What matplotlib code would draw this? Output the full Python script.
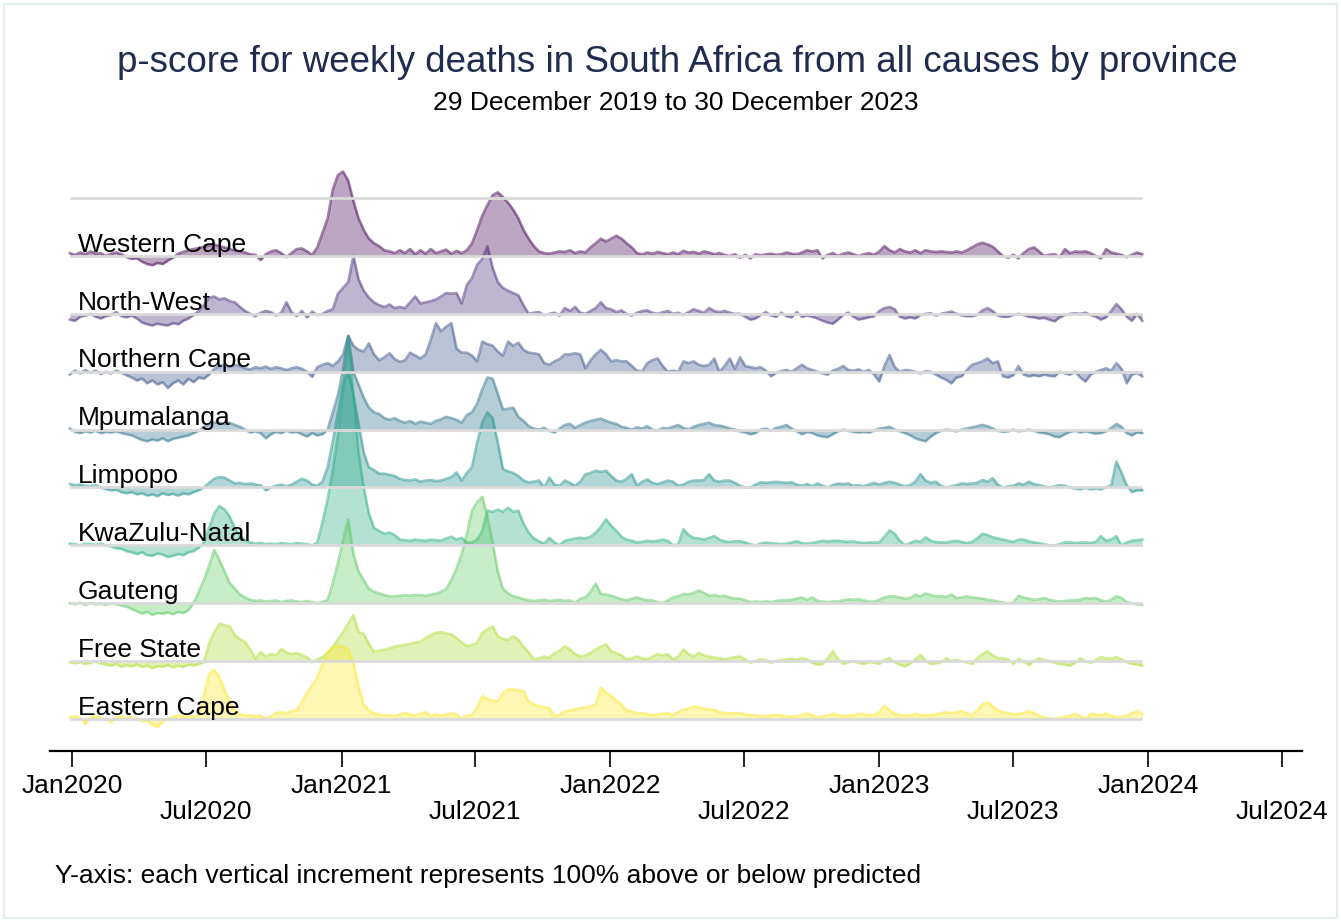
import numpy as np
import pandas as pd
import matplotlib
matplotlib.use("Agg")
import matplotlib.pyplot as plt
import matplotlib.dates as mdates
from matplotlib import transforms
from matplotlib.patches import Rectangle

plt.rcParams['font.family'] = ['Liberation Sans', 'DejaVu Sans']

# Weekly p-scores (fraction above / below predicted), week starting 29 Dec 2019
week_start = pd.date_range('2019-12-29', periods=209, freq='7D')

western_cape = [
    0.05, 0.02, 0.06, 0.03, 0.08, 0.04, 0.05, 0.00, 0.04, 0.06, 0.03, -0.02, -0.05,
    -0.04, -0.10, -0.14, -0.16, -0.12, -0.14, -0.08, -0.03, 0.04, 0.07, 0.10, 0.12, 0.14,
    0.16, 0.18, 0.20, 0.17, 0.15, 0.12, 0.10, 0.08, 0.06, 0.03, 0.02, -0.07, 0.03,
    0.08, 0.10, 0.05, -0.02, 0.05, 0.12, 0.13, 0.08, 0.02, 0.15, 0.40, 0.65, 1.15,
    1.40, 1.46, 1.30, 0.95, 0.65, 0.45, 0.30, 0.22, 0.17, 0.10, 0.08, 0.05, 0.10,
    0.05, 0.12, 0.03, 0.10, 0.04, 0.12, 0.05, 0.08, 0.11, 0.04, 0.09, 0.05, 0.10,
    0.22, 0.45, 0.70, 0.88, 1.05, 1.10, 1.02, 0.92, 0.80, 0.65, 0.45, 0.30, 0.17,
    0.08, 0.05, 0.04, 0.06, 0.08, 0.07, 0.10, 0.05, 0.08, 0.06, 0.15, 0.22, 0.30,
    0.25, 0.30, 0.35, 0.30, 0.22, 0.15, 0.05, 0.03, 0.06, 0.04, 0.07, 0.05, 0.03,
    0.06, 0.03, 0.09, 0.06, 0.07, 0.04, 0.08, 0.06, 0.03, 0.05, 0.02, 0.00, 0.03,
    -0.03, 0.02, -0.04, 0.03, 0.01, 0.03, 0.04, 0.02, 0.03, 0.06, 0.04, 0.03, 0.06,
    0.10, 0.08, 0.10, -0.04, 0.02, 0.05, 0.00, 0.04, 0.06, 0.03, 0.00, 0.03, 0.05,
    0.02, 0.08, 0.17, 0.10, 0.06, 0.12, 0.08, 0.06, 0.10, 0.05, 0.10, 0.08, 0.07,
    0.08, 0.07, 0.06, 0.08, 0.06, 0.10, 0.15, 0.20, 0.23, 0.20, 0.16, 0.08, 0.00,
    -0.03, 0.02, -0.04, 0.05, 0.12, 0.15, 0.08, 0.00, 0.02, 0.03, -0.02, 0.12, 0.05,
    0.08, 0.07, 0.08, 0.05, 0.00, -0.04, 0.12, 0.06, 0.04, 0.02, -0.02, 0.02, 0.06,
    0.03]

north_west = [
    -0.10, -0.12, -0.05, -0.03, 0.00, -0.05, -0.08, -0.04, -0.02, 0.03, -0.04, -0.06, -0.03,
    -0.08, -0.15, -0.18, -0.20, -0.17, -0.19, -0.20, -0.16, -0.18, -0.12, -0.08, -0.02, 0.05,
    0.15, 0.28, 0.30, 0.25, 0.27, 0.22, 0.20, 0.12, 0.05, 0.00, -0.04, 0.02, 0.05,
    0.03, -0.03, 0.02, 0.20, 0.03, -0.04, 0.05, -0.06, 0.04, -0.02, 0.00, 0.05, 0.08,
    0.35, 0.45, 0.55, 1.00, 0.60, 0.40, 0.28, 0.20, 0.15, 0.12, 0.16, 0.10, 0.12,
    0.10, 0.20, 0.30, 0.18, 0.20, 0.22, 0.25, 0.30, 0.36, 0.35, 0.36, 0.18, 0.50,
    0.62, 0.85, 0.95, 1.17, 0.80, 0.55, 0.45, 0.40, 0.36, 0.32, 0.15, 0.00, 0.02,
    0.03, -0.02, 0.00, 0.02, -0.03, 0.10, 0.05, 0.12, 0.02, 0.00, 0.05, 0.10, 0.20,
    0.10, 0.08, 0.03, 0.06, 0.00, -0.03, 0.02, 0.05, 0.06, 0.02, 0.00, 0.03, 0.05,
    0.00, 0.02, -0.02, 0.03, 0.08, 0.05, 0.02, 0.10, 0.05, 0.03, 0.05, 0.02, 0.00,
    0.00, -0.05, -0.10, -0.08, -0.02, 0.03, -0.03, -0.05, 0.02, -0.04, -0.06, 0.03, -0.05,
    -0.03, -0.05, -0.08, -0.12, -0.15, -0.17, -0.10, -0.02, 0.02, -0.05, -0.10, -0.08, -0.06,
    -0.04, 0.05, 0.10, 0.12, 0.08, -0.05, -0.08, -0.06, -0.08, -0.02, 0.00, 0.01, -0.03,
    0.00, 0.02, 0.04, 0.00, -0.03, -0.04, -0.04, -0.02, 0.06, 0.10, 0.05, -0.03, -0.05,
    -0.05, -0.02, 0.00, -0.02, -0.05, -0.06, -0.08, -0.07, -0.10, -0.13, -0.06, -0.02, 0.00,
    0.01, 0.00, 0.02, -0.02, -0.05, -0.10, -0.06, 0.05, 0.17, 0.08, -0.05, -0.12, 0.00,
    -0.12]

northern_cape = [
    -0.05, 0.02, -0.03, 0.03, -0.02, 0.02, -0.04, 0.00, -0.03, 0.02, -0.02, -0.06, -0.10,
    -0.15, -0.12, -0.20, -0.15, -0.22, -0.18, -0.28, -0.20, -0.15, -0.22, -0.12, -0.18, -0.10,
    -0.12, -0.05, 0.05, 0.10, 0.12, 0.08, 0.12, 0.10, 0.06, 0.04, 0.08, 0.06, 0.09,
    0.05, 0.08, 0.06, 0.03, 0.06, 0.08, 0.05, 0.00, -0.09, 0.08, 0.12, 0.15, 0.10,
    0.18, 0.30, 0.62, 0.45, 0.38, 0.35, 0.49, 0.30, 0.20, 0.25, 0.32, 0.22, 0.17,
    0.20, 0.33, 0.28, 0.23, 0.30, 0.55, 0.84, 0.70, 0.78, 0.84, 0.40, 0.33, 0.33,
    0.28, 0.18, 0.52, 0.48, 0.45, 0.35, 0.28, 0.52, 0.45, 0.50, 0.38, 0.33, 0.32,
    0.30, 0.15, 0.12, 0.18, 0.22, 0.30, 0.30, 0.32, 0.30, 0.06, 0.20, 0.30, 0.38,
    0.30, 0.18, 0.20, 0.18, 0.18, 0.10, 0.02, 0.00, 0.15, 0.20, 0.23, 0.10, 0.00,
    0.02, 0.00, 0.18, 0.15, 0.18, 0.12, 0.10, 0.12, 0.23, 0.00, 0.10, 0.23, 0.05,
    0.25, 0.10, 0.08, 0.06, 0.08, 0.02, -0.08, -0.02, 0.01, 0.03, 0.00, 0.06, 0.12,
    0.06, 0.03, 0.00, -0.03, -0.05, 0.02, 0.05, 0.10, 0.03, 0.02, 0.04, 0.00, 0.03,
    -0.05, -0.17, 0.10, 0.29, 0.08, 0.00, 0.03, 0.02, 0.00, -0.03, 0.01, 0.00, -0.05,
    -0.10, -0.14, -0.20, -0.10, -0.08, 0.03, 0.12, 0.15, 0.18, 0.23, 0.15, 0.18, -0.08,
    -0.10, -0.06, 0.10, -0.05, -0.08, -0.06, -0.08, -0.05, -0.07, -0.08, 0.00, -0.03, -0.05,
    0.00, -0.10, -0.17, -0.05, 0.00, 0.03, 0.06, 0.02, 0.15, 0.05, -0.20, -0.05, -0.02,
    -0.08]

mpumalanga = [
    0.02, -0.04, -0.06, -0.03, -0.05, -0.02, -0.06, -0.04, -0.05, -0.03, -0.06, -0.08, -0.10,
    -0.14, -0.18, -0.20, -0.17, -0.19, -0.15, -0.20, -0.16, -0.14, -0.12, -0.10, -0.06, -0.02,
    0.04, 0.10, 0.12, 0.12, 0.10, 0.12, 0.08, 0.05, 0.00, -0.05, -0.03, -0.06, -0.15,
    -0.08, -0.04, -0.06, -0.02, -0.05, -0.04, -0.08, -0.12, -0.06, -0.10, -0.08, 0.00, 0.30,
    0.60, 1.05, 1.62, 1.00, 0.78, 0.55, 0.38, 0.30, 0.27, 0.20, 0.17, 0.20, 0.15,
    0.12, 0.15, 0.10, 0.14, 0.12, 0.10, 0.15, 0.18, 0.22, 0.20, 0.17, 0.12, 0.25,
    0.30, 0.45, 0.70, 0.90, 0.88, 0.62, 0.35, 0.36, 0.38, 0.22, 0.15, 0.06, 0.02,
    0.00, 0.03, -0.02, -0.05, 0.02, 0.08, 0.10, 0.03, 0.08, 0.12, 0.15, 0.17, 0.19,
    0.15, 0.12, 0.10, 0.05, 0.03, 0.00, 0.04, 0.02, 0.06, 0.00, -0.02, 0.03, 0.02,
    0.05, 0.08, 0.03, 0.00, 0.05, 0.08, 0.10, 0.12, 0.08, 0.07, 0.05, 0.02, 0.00,
    -0.03, -0.05, -0.08, -0.06, 0.00, 0.02, -0.02, 0.03, 0.05, 0.08, 0.02, -0.03, -0.08,
    -0.04, -0.06, -0.10, -0.12, -0.13, -0.08, -0.03, 0.00, -0.02, -0.04, -0.05, -0.04, -0.05,
    -0.02, 0.02, 0.03, 0.05, 0.00, -0.03, -0.06, -0.10, -0.15, -0.18, -0.20, -0.12, -0.06,
    -0.02, 0.00, -0.01, -0.03, 0.00, 0.02, 0.04, 0.06, 0.08, 0.06, 0.02, -0.02, -0.04,
    -0.03, 0.00, -0.03, -0.02, 0.00, -0.02, -0.05, -0.06, -0.08, -0.12, -0.13, -0.08, -0.04,
    -0.02, -0.05, -0.03, -0.05, -0.07, -0.06, -0.03, 0.03, 0.10, 0.05, -0.06, -0.10, -0.05,
    -0.06]

limpopo = [
    0.06, 0.04, 0.05, 0.03, 0.02, 0.04, 0.00, -0.03, -0.05, -0.04, -0.08, -0.10, -0.08,
    -0.12, -0.10, -0.14, -0.12, -0.15, -0.10, -0.13, -0.11, -0.14, -0.10, -0.12, -0.08, -0.05,
    0.00, 0.08, 0.15, 0.18, 0.17, 0.12, 0.07, 0.08, 0.06, 0.07, 0.05, 0.04, -0.05,
    0.00, 0.03, 0.05, 0.02, 0.05, 0.10, 0.15, 0.12, 0.05, 0.03, 0.10, 0.35, 0.80,
    1.30, 1.80, 2.00, 1.60, 1.10, 0.60, 0.35, 0.30, 0.24, 0.24, 0.22, 0.20, 0.15,
    0.13, 0.12, 0.14, 0.10, 0.12, 0.13, 0.11, 0.12, 0.15, 0.18, 0.26, 0.12, 0.25,
    0.35, 0.78, 1.13, 1.30, 1.20, 0.78, 0.32, 0.28, 0.25, 0.20, 0.12, 0.09, 0.10,
    0.12, 0.00, 0.17, 0.05, 0.03, 0.12, 0.08, 0.03, 0.10, 0.23, 0.25, 0.29, 0.27,
    0.29, 0.20, 0.12, 0.10, 0.15, 0.23, 0.03, 0.10, 0.14, 0.08, 0.06, 0.09, 0.12,
    0.10, 0.03, 0.05, 0.10, 0.12, 0.12, 0.13, 0.23, 0.12, 0.10, 0.12, 0.12, 0.08,
    0.03, 0.00, 0.00, 0.05, 0.09, 0.08, 0.09, 0.10, 0.09, 0.08, 0.09, 0.05, 0.03,
    0.06, 0.02, 0.07, 0.03, 0.00, 0.04, 0.07, 0.06, 0.07, 0.03, 0.04, 0.02, 0.05,
    0.08, 0.05, 0.08, 0.10, 0.08, 0.05, 0.02, 0.04, 0.10, 0.23, 0.12, 0.08, 0.10,
    0.03, 0.00, 0.02, 0.04, 0.07, 0.06, 0.07, 0.08, 0.13, 0.10, 0.16, 0.05, 0.00,
    0.02, 0.03, 0.07, 0.05, 0.10, 0.06, 0.04, 0.02, 0.00, 0.02, 0.04, 0.03, 0.00,
    -0.02, -0.03, -0.01, -0.03, -0.02, -0.03, 0.00, 0.04, 0.45, 0.25, 0.04, -0.08, -0.05,
    -0.05]

kwazulu_natal = [
    0.03, 0.02, 0.00, 0.03, 0.02, 0.01, 0.03, 0.00, -0.02, -0.05, -0.06, -0.10, -0.12,
    -0.15, -0.12, -0.17, -0.18, -0.14, -0.16, -0.20, -0.18, -0.15, -0.17, -0.12, -0.10, -0.04,
    0.05, 0.30, 0.55, 0.68, 0.62, 0.50, 0.30, 0.17, 0.09, 0.05, 0.03, 0.04, 0.02,
    0.03, 0.02, 0.04, 0.03, 0.02, 0.04, 0.03, 0.02, 0.00, 0.05, 0.40, 0.80, 1.30,
    1.90, 2.70, 3.60, 2.60, 1.60, 1.00, 0.55, 0.30, 0.25, 0.20, 0.22, 0.18, 0.10,
    0.09, 0.08, 0.10, 0.09, 0.08, 0.10, 0.09, 0.08, 0.12, 0.15, 0.10, 0.13, 0.05,
    0.05, 0.10, 0.25, 0.60, 0.58, 0.62, 0.58, 0.65, 0.58, 0.60, 0.38, 0.22, 0.12,
    0.07, 0.03, 0.13, 0.05, 0.00, 0.08, 0.10, 0.12, 0.13, 0.12, 0.15, 0.22, 0.32,
    0.45, 0.34, 0.25, 0.15, 0.10, 0.08, 0.05, 0.06, 0.08, 0.07, 0.08, 0.10, 0.08,
    0.00, 0.02, 0.28, 0.18, 0.13, 0.12, 0.10, 0.13, 0.16, 0.10, 0.07, 0.06, 0.07,
    0.07, 0.05, 0.02, 0.00, 0.03, 0.05, 0.04, 0.03, 0.02, 0.03, 0.05, 0.07, 0.04,
    0.03, 0.04, 0.06, 0.08, 0.07, 0.08, 0.08, 0.07, 0.06, 0.07, 0.05, 0.04, 0.05,
    0.05, 0.05, 0.15, 0.26, 0.20, 0.08, 0.00, 0.04, 0.08, 0.06, 0.14, 0.08, 0.06,
    0.05, 0.05, 0.07, 0.08, 0.06, 0.04, 0.06, 0.12, 0.20, 0.18, 0.14, 0.12, 0.10,
    0.08, 0.06, 0.10, 0.10, 0.07, 0.05, 0.04, 0.02, 0.00, 0.00, 0.02, 0.05, 0.05,
    0.04, 0.05, 0.05, 0.04, 0.06, 0.16, 0.08, 0.10, 0.16, 0.00, 0.05, 0.08, 0.09,
    0.10]

gauteng = [
    0.00, -0.02, 0.01, -0.03, 0.00, -0.02, -0.01, -0.03, 0.00, -0.02, -0.04, -0.06, -0.10,
    -0.14, -0.18, -0.15, -0.20, -0.17, -0.18, -0.16, -0.19, -0.15, -0.17, -0.12, 0.00, 0.20,
    0.40, 0.65, 0.92, 0.75, 0.55, 0.35, 0.25, 0.15, 0.10, 0.06, 0.04, 0.05, 0.03,
    0.04, 0.05, 0.02, 0.04, 0.05, 0.03, 0.02, 0.04, 0.02, 0.00, 0.02, 0.06, 0.35,
    0.70, 1.10, 1.45, 0.85, 0.55, 0.40, 0.25, 0.20, 0.17, 0.14, 0.12, 0.12, 0.13,
    0.14, 0.13, 0.14, 0.14, 0.13, 0.15, 0.16, 0.20, 0.25, 0.40, 0.60, 0.85, 1.20,
    1.60, 1.75, 1.84, 1.50, 1.05, 0.55, 0.25, 0.17, 0.12, 0.10, 0.07, 0.05, 0.04,
    0.05, 0.06, 0.04, 0.05, 0.06, 0.04, 0.05, 0.00, 0.08, 0.10, 0.20, 0.34, 0.16,
    0.15, 0.13, 0.10, 0.07, 0.05, 0.08, 0.10, 0.07, 0.05, 0.05, 0.02, 0.00, 0.05,
    0.10, 0.12, 0.16, 0.15, 0.18, 0.22, 0.18, 0.13, 0.14, 0.12, 0.13, 0.10, 0.08,
    0.08, 0.05, 0.02, 0.03, 0.02, 0.03, 0.02, 0.04, 0.05, 0.05, 0.06, 0.08, 0.10,
    0.06, 0.10, 0.04, 0.03, 0.02, 0.03, 0.03, 0.05, 0.07, 0.06, 0.07, 0.05, 0.03,
    0.03, 0.06, 0.10, 0.12, 0.12, 0.10, 0.08, 0.09, 0.15, 0.12, 0.17, 0.14, 0.12,
    0.12, 0.11, 0.15, 0.09, 0.10, 0.12, 0.10, 0.09, 0.08, 0.06, 0.05, 0.03, 0.01,
    0.00, 0.01, 0.13, 0.10, 0.08, 0.06, 0.07, 0.09, 0.06, 0.04, 0.03, 0.04, 0.05,
    0.05, 0.06, 0.09, 0.08, 0.09, 0.05, 0.03, 0.06, 0.12, 0.09, 0.02, 0.00, -0.02,
    -0.03]

free_state = [
    -0.02, -0.04, -0.02, -0.05, -0.03, -0.01, -0.04, -0.06, -0.08, -0.05, -0.10, -0.07, -0.09,
    -0.06, -0.10, -0.08, -0.12, -0.09, -0.10, -0.07, -0.11, -0.08, -0.10, -0.06, -0.08, -0.05,
    -0.02, 0.30, 0.50, 0.65, 0.62, 0.60, 0.45, 0.38, 0.33, 0.20, 0.04, 0.16, 0.08,
    0.12, 0.10, 0.21, 0.15, 0.12, 0.14, 0.10, 0.07, -0.02, 0.03, 0.07, 0.15, 0.24,
    0.38, 0.50, 0.65, 0.80, 0.50, 0.47, 0.30, 0.16, 0.18, 0.20, 0.22, 0.25, 0.27,
    0.28, 0.30, 0.32, 0.33, 0.40, 0.45, 0.49, 0.50, 0.48, 0.46, 0.40, 0.32, 0.26,
    0.28, 0.32, 0.49, 0.55, 0.60, 0.43, 0.38, 0.37, 0.43, 0.37, 0.25, 0.15, 0.03,
    0.05, 0.08, 0.06, 0.14, 0.18, 0.26, 0.20, 0.12, 0.08, 0.10, 0.14, 0.20, 0.25,
    0.29, 0.17, 0.14, 0.10, 0.03, 0.05, 0.08, 0.05, 0.03, 0.08, 0.12, 0.10, 0.12,
    0.03, 0.08, 0.20, 0.12, 0.08, 0.14, 0.10, 0.08, 0.06, 0.05, 0.03, 0.05, 0.07,
    0.08, 0.03, -0.03, 0.00, 0.03, 0.02, -0.03, 0.00, 0.02, 0.03, 0.04, 0.03, 0.05,
    0.03, -0.03, -0.06, -0.05, 0.05, 0.17, 0.03, -0.05, -0.02, 0.00, -0.03, -0.05, -0.02,
    -0.03, -0.05, 0.02, 0.05, -0.02, -0.06, -0.09, -0.04, 0.03, 0.11, 0.00, -0.05, -0.04,
    -0.02, 0.05, 0.00, 0.02, 0.00, -0.02, -0.05, 0.05, 0.12, 0.17, 0.10, 0.05, 0.05,
    0.03, -0.05, 0.04, 0.00, -0.07, 0.00, 0.05, 0.02, 0.00, -0.03, -0.05, -0.06, -0.08,
    -0.03, 0.05, 0.00, -0.03, 0.02, 0.07, 0.05, 0.04, 0.07, 0.03, -0.02, -0.05, -0.06,
    -0.08]

eastern_cape = [
    0.03, 0.05, 0.02, -0.09, 0.03, 0.05, 0.02, 0.00, -0.06, 0.03, 0.04, 0.02, 0.03,
    0.00, -0.04, -0.03, -0.10, -0.14, -0.05, 0.00, 0.04, 0.06, 0.05, 0.04, 0.05, 0.06,
    0.40, 0.78, 0.85, 0.72, 0.50, 0.30, 0.15, 0.08, 0.06, 0.06, 0.05, 0.06, 0.00,
    0.05, 0.10, 0.12, 0.10, 0.14, 0.15, 0.30, 0.45, 0.58, 0.72, 0.95, 1.15, 1.24,
    1.27, 1.25, 1.20, 0.98, 0.55, 0.25, 0.15, 0.10, 0.08, 0.06, 0.07, 0.05, 0.08,
    0.10, 0.08, 0.06, 0.09, 0.12, 0.05, 0.08, 0.06, 0.08, 0.10, 0.08, 0.00, 0.06,
    0.07, 0.20, 0.40, 0.35, 0.32, 0.30, 0.45, 0.51, 0.51, 0.50, 0.48, 0.30, 0.25,
    0.22, 0.20, 0.19, 0.05, 0.08, 0.13, 0.15, 0.17, 0.19, 0.20, 0.22, 0.25, 0.54,
    0.45, 0.40, 0.32, 0.25, 0.15, 0.13, 0.10, 0.10, 0.08, 0.07, 0.08, 0.09, 0.10,
    0.07, 0.12, 0.16, 0.18, 0.22, 0.20, 0.18, 0.16, 0.16, 0.12, 0.10, 0.10, 0.10,
    0.10, 0.08, 0.07, 0.06, 0.05, 0.05, 0.06, 0.07, 0.06, 0.05, 0.04, 0.05, 0.07,
    0.10, 0.06, 0.03, 0.05, 0.06, 0.09, 0.07, 0.05, 0.06, 0.06, 0.09, 0.08, 0.07,
    0.07, 0.12, 0.23, 0.15, 0.09, 0.07, 0.06, 0.06, 0.09, 0.07, 0.06, 0.07, 0.08,
    0.10, 0.12, 0.10, 0.12, 0.14, 0.10, 0.06, 0.15, 0.25, 0.29, 0.22, 0.15, 0.12,
    0.10, 0.08, 0.09, 0.10, 0.14, 0.10, 0.06, 0.03, 0.01, 0.00, 0.02, 0.04, 0.06,
    0.09, 0.05, 0.00, 0.09, 0.08, 0.07, 0.09, 0.06, 0.03, 0.04, 0.06, 0.10, 0.14,
    0.09]

provinces = ['Western Cape', 'North-West', 'Northern Cape', 'Mpumalanga', 'Limpopo',
             'KwaZulu-Natal', 'Gauteng', 'Free State', 'Eastern Cape']
series = [western_cape, north_west, northern_cape, mpumalanga, limpopo,
          kwazulu_natal, gauteng, free_state, eastern_cape]

title = 'p-score for weekly deaths in South Africa from all causes by province'
subtitle = '29 December 2019 to 30 December 2023'
note = 'Y-axis: each vertical increment represents 100% above or below predicted'
tick_dates = pd.to_datetime(['2020-01-01', '2020-07-01', '2021-01-01', '2021-07-01',
                             '2022-01-01', '2022-07-01', '2023-01-01', '2023-07-01',
                             '2024-01-01', '2024-07-01'])
tick_labels = ['Jan2020', 'Jul2020', 'Jan2021', 'Jul2021', 'Jan2022', 'Jul2022',
               'Jan2023', 'Jul2023', 'Jan2024', 'Jul2024']

W, H = 1341, 922
fig = plt.figure(figsize=(W / 100, H / 100), dpi=100)
fig.patch.set_facecolor('white')

ax = fig.add_axes([50 / W, (H - 751) / H, (1302 - 50) / W, (751 - 165) / H])
ax.set_facecolor('none')

n = len(series)
colors = plt.cm.viridis(np.linspace(0, 1, n))
x = mdates.date2num(week_start)

for k, (name, vals) in enumerate(zip(provinces, series)):
    base = n - 1 - k
    v = np.asarray(vals, dtype=float)
    c = colors[k]
    ax.fill_between(x, base, base + v, color=c, alpha=0.35, linewidth=0,
                    interpolate=True, zorder=2 + k)
    ax.plot(x, base + v, color=c, alpha=0.5, lw=1.9, zorder=2 + k,
            solid_joinstyle='round')

# grey reference lines: one per province plus one increment above the top row
for b in range(n + 1):
    ax.plot([x[0], x[-1]], [b, b], color='#dadada', lw=2.0, zorder=20,
            solid_capstyle='butt')

lab_tr = transforms.blended_transform_factory(ax.transAxes, ax.transData)
for k, name in enumerate(provinces):
    base = n - 1 - k
    ax.text((78 - 50) / (1302 - 50), base + 0.075, name, transform=lab_tr,
            fontsize=19, color='black', va='baseline', ha='left', zorder=30)

ax.set_xlim(mdates.date2num(pd.Timestamp('2019-12-02')),
            mdates.date2num(pd.Timestamp('2024-07-28')))
ax.set_ylim(-32 / 57.875, (719 - 165) / 57.875)

for side in ['top', 'right', 'left']:
    ax.spines[side].set_visible(False)
ax.spines['bottom'].set_linewidth(1.6)
ax.set_yticks([])
ax.set_xticks(mdates.date2num(tick_dates))
ax.set_xticklabels([''] * len(tick_dates))
ax.tick_params(axis='x', direction='out', length=11.5, width=1.2, color='black')

tick_tr = transforms.blended_transform_factory(ax.transData, fig.transFigure)
for i, (d, lab) in enumerate(zip(tick_dates, tick_labels)):
    ypix = 786 if i % 2 == 0 else 812
    ax.text(mdates.date2num(d), (H - ypix) / H, lab, transform=tick_tr,
            fontsize=19, ha='center', va='center', clip_on=False)

fig.text(677 / W, (H - 63) / H, title, fontsize=26.5, color='#1f2b4f',
         ha='center', va='center')
fig.text(676 / W, (H - 103) / H, subtitle, fontsize=19, color='black',
         ha='center', va='center')
fig.text(55 / W, (H - 876) / H, note, fontsize=19, color='black',
         ha='left', va='center')

fig.patches.append(Rectangle((4 / W, 4 / H), (W - 8) / W, (H - 8) / H,
                             transform=fig.transFigure, fill=False,
                             edgecolor='#e2eeee', linewidth=1.5))

fig.savefig('out.png', dpi=100, facecolor='white')
